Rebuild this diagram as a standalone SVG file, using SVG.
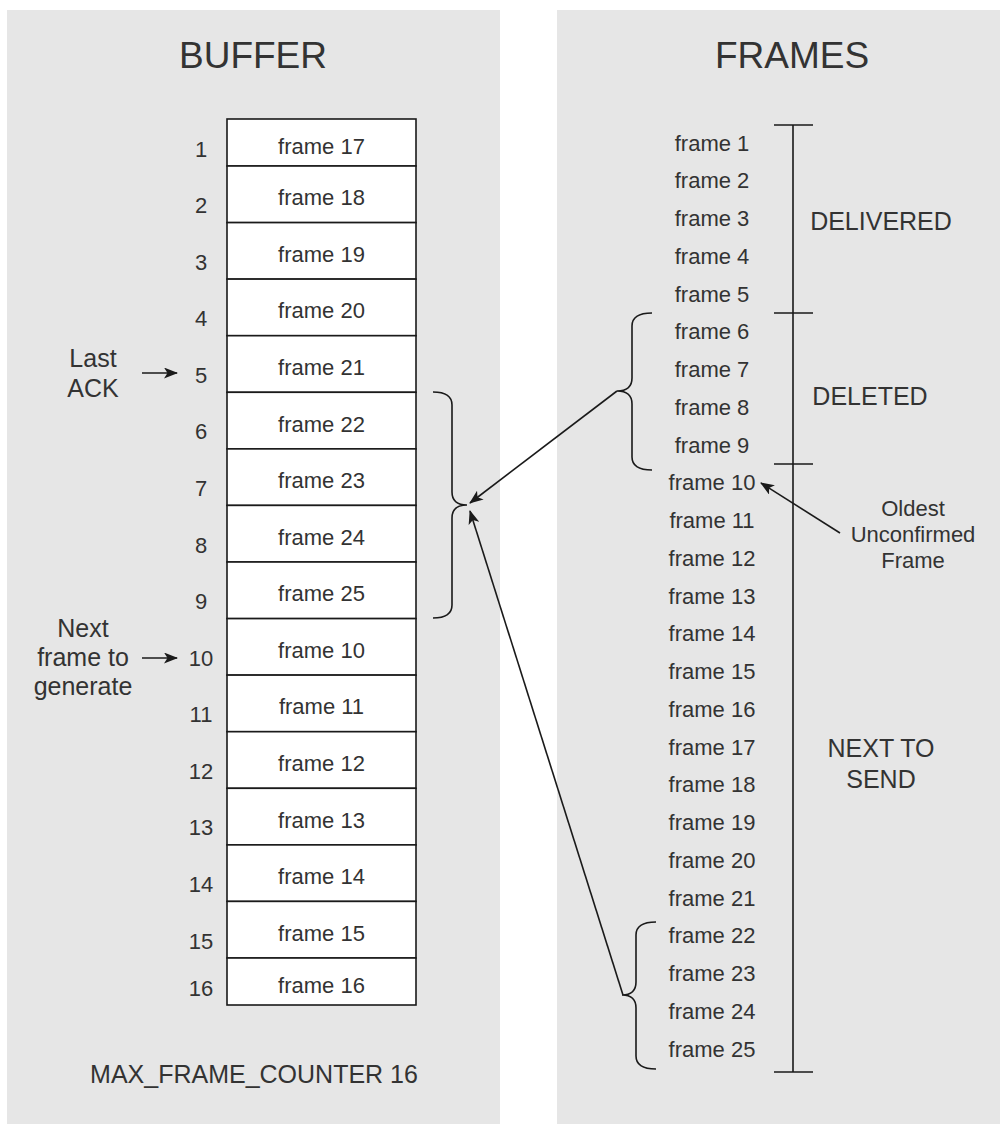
<svg xmlns="http://www.w3.org/2000/svg" width="1000" height="1124" viewBox="0 0 1000 1124">
<defs>
<style>
.panel{fill:#e6e6e6;stroke:none}
.cell{fill:#ffffff;stroke:#1a1a1a;stroke-width:1.6}
.t{font-family:"Liberation Sans",Arial,sans-serif;fill:#333333;text-anchor:middle}
.f{font-size:22px}
.l{font-size:25px}
.title{font-size:37px}
.line{fill:none;stroke:#1a1a1a;stroke-width:1.6}
</style>
<marker id="ah" viewBox="0 0 14 11" refX="13" refY="5.5" markerWidth="14" markerHeight="11" markerUnits="userSpaceOnUse" orient="auto">
<path d="M0,0 L14,5.5 L0,11 L3.5,5.5 Z" fill="#1a1a1a"/>
</marker>
</defs>
<rect x="0" y="0" width="1000" height="1124" fill="#ffffff"/>
<g id="panel-buffer">
<rect class="panel" x="7" y="10" width="493" height="1114"/>
<text class="t title" x="253" y="68">BUFFER</text>
<text class="t l" x="254" y="1083">MAX_FRAME_COUNTER 16</text>
</g>
<g id="panel-frames">
<rect class="panel" x="557" y="10" width="443" height="1114"/>
<text class="t title" x="792" y="68">FRAMES</text>
</g>
<g id="buffer">
<rect class="cell" x="227" y="119" width="189" height="47"/>
<rect class="cell" x="227" y="166" width="189" height="56.6"/>
<rect class="cell" x="227" y="222.6" width="189" height="56.5"/>
<rect class="cell" x="227" y="279.1" width="189" height="56.6"/>
<rect class="cell" x="227" y="335.7" width="189" height="56.6"/>
<rect class="cell" x="227" y="392.3" width="189" height="56.6"/>
<rect class="cell" x="227" y="448.9" width="189" height="56.5"/>
<rect class="cell" x="227" y="505.4" width="189" height="56.6"/>
<rect class="cell" x="227" y="562" width="189" height="56.6"/>
<rect class="cell" x="227" y="618.6" width="189" height="56.5"/>
<rect class="cell" x="227" y="675.1" width="189" height="56.6"/>
<rect class="cell" x="227" y="731.7" width="189" height="56.6"/>
<rect class="cell" x="227" y="788.3" width="189" height="56.6"/>
<rect class="cell" x="227" y="844.9" width="189" height="56.5"/>
<rect class="cell" x="227" y="901.4" width="189" height="56.6"/>
<rect class="cell" x="227" y="958" width="189" height="47"/>
<g class="t f">
<text x="321.5" y="153.5">frame 17</text>
<text x="321.5" y="205.3">frame 18</text>
<text x="321.5" y="261.9">frame 19</text>
<text x="321.5" y="318.4">frame 20</text>
<text x="321.5" y="375">frame 21</text>
<text x="321.5" y="431.6">frame 22</text>
<text x="321.5" y="488.1">frame 23</text>
<text x="321.5" y="544.7">frame 24</text>
<text x="321.5" y="601.3">frame 25</text>
<text x="321.5" y="657.9">frame 10</text>
<text x="321.5" y="714.4">frame 11</text>
<text x="321.5" y="771">frame 12</text>
<text x="321.5" y="827.6">frame 13</text>
<text x="321.5" y="884.1">frame 14</text>
<text x="321.5" y="940.7">frame 15</text>
<text x="321.5" y="992.5">frame 16</text>
</g>
<g class="t f">
<text x="201" y="156.5">1</text>
<text x="201" y="213.1">2</text>
<text x="201" y="269.6">3</text>
<text x="201" y="326.2">4</text>
<text x="201" y="382.8">5</text>
<text x="201" y="439.4">6</text>
<text x="201" y="495.9">7</text>
<text x="201" y="552.5">8</text>
<text x="201" y="609.1">9</text>
<text x="201" y="665.6">10</text>
<text x="201" y="722.2">11</text>
<text x="201" y="778.8">12</text>
<text x="201" y="835.4">13</text>
<text x="201" y="891.9">14</text>
<text x="201" y="948.5">15</text>
<text x="201" y="995.5">16</text>
</g>
</g>
<g id="label-last-ack" class="t l">
<text x="93" y="367">Last</text>
<text x="93" y="397">ACK</text>
</g>
<g id="label-next-frame" class="t l">
<text x="83" y="637">Next</text>
<text x="83" y="666">frame to</text>
<text x="83" y="695">generate</text>
</g>
<g id="frames-list" class="t f">
<text x="712" y="150.5">frame 1</text>
<text x="712" y="188.3">frame 2</text>
<text x="712" y="226">frame 3</text>
<text x="712" y="263.8">frame 4</text>
<text x="712" y="301.5">frame 5</text>
<text x="712" y="339.3">frame 6</text>
<text x="712" y="377">frame 7</text>
<text x="712" y="414.8">frame 8</text>
<text x="712" y="452.5">frame 9</text>
<text x="712" y="490.3">frame 10</text>
<text x="712" y="528">frame 11</text>
<text x="712" y="565.8">frame 12</text>
<text x="712" y="603.5">frame 13</text>
<text x="712" y="641.3">frame 14</text>
<text x="712" y="679">frame 15</text>
<text x="712" y="716.8">frame 16</text>
<text x="712" y="754.5">frame 17</text>
<text x="712" y="792.3">frame 18</text>
<text x="712" y="830">frame 19</text>
<text x="712" y="867.8">frame 20</text>
<text x="712" y="905.5">frame 21</text>
<text x="712" y="943.3">frame 22</text>
<text x="712" y="981">frame 23</text>
<text x="712" y="1018.8">frame 24</text>
<text x="712" y="1056.5">frame 25</text>
</g>
<g id="timeline">
<path class="line" d="M793,125 L793,1072 M774,125 L813,125 M774,313 L813,313 M774,464 L813,464 M774,1072 L813,1072"/>
<g class="t l">
<text x="881" y="230">DELIVERED</text>
<text x="870" y="405">DELETED</text>
<text x="881" y="757">NEXT TO</text>
<text x="881" y="788">SEND</text>
</g>
</g>
<g id="label-oldest" class="t f">
<text x="913" y="516">Oldest</text>
<text x="913" y="542">Unconfirmed</text>
<text x="913" y="568">Frame</text>
</g>
<g id="brace-buffer">
<path class="line" d="M433,392 Q452,392 452,405 L452,492 Q452,505 467,505 Q452,505 452,518 L452,605 Q452,618 433,618"/>
</g>
<g id="brace-deleted">
<path class="line" d="M652,313 Q632,313 632,326 L632,378 Q632,391 617,391 Q632,391 632,404 L632,457 Q632,470 652,470"/>
</g>
<g id="brace-next">
<path class="line" d="M656,922 Q636,922 636,935 L636,982 Q636,995 622,995 Q636,995 636,1008 L636,1056 Q636,1069 656,1069"/>
</g>
<g id="connectors">
<line class="line" x1="617" y1="391" x2="470" y2="503" marker-end="url(#ah)"/>
<line class="line" x1="623" y1="995" x2="470" y2="511" marker-end="url(#ah)"/>
<line class="line" x1="840" y1="533" x2="761" y2="483" marker-end="url(#ah)"/>
<line class="line" x1="142" y1="373" x2="177" y2="373" marker-end="url(#ah)"/>
<line class="line" x1="142" y1="658" x2="177" y2="658" marker-end="url(#ah)"/>
</g>
</svg>
